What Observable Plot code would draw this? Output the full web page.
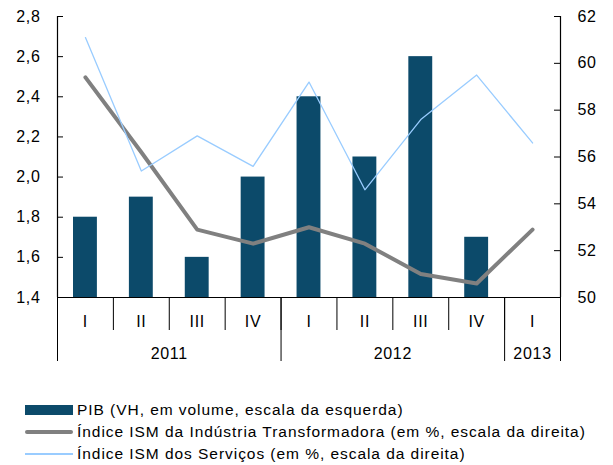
<!DOCTYPE html>
<html>
<head>
<meta charset="utf-8">
<script src="https://cdn.jsdelivr.net/npm/d3@7"></script>
<script src="https://cdn.jsdelivr.net/npm/@observablehq/plot@0.6"></script>
<style>
  html, body { margin: 0; padding: 0; background: #fff; }
  #wrap { position: relative; width: 613px; height: 465px; font-family: "Liberation Sans", Arial, sans-serif; }
  #legend { position: absolute; left: 0; top: 380px; width: 613px; height: 85px; }
  .row { position: absolute; left: 25px; height: 22px; display: flex; align-items: center; font-size: 15.5px; letter-spacing: 0.95px; color: #000; white-space: nowrap; }
  .sw { width: 48px; margin-right: 4px; flex: none; }
</style>
</head>
<body>
<div id="wrap">
  <div id="chart"></div>
  <div id="legend"></div>
</div>
<script>
const quarters = ["I", "II", "III", "IV", "I", "II", "III", "IV", "I"];
const years = ["2011", "2012", "2013"];
const yearFirst = [0, 4, 8];
const yearLast = [3, 7, 8];
const pib = [1.8, 1.9, 1.6, 2.0, 2.4, 2.1, 2.6, 1.7];
const ismIndustria = [59.4, 56.2, 52.9, 52.3, 53.0, 52.3, 51.0, 50.6, 52.9];
const ismServicos = [61.1, 55.4, 56.9, 55.6, 59.2, 54.6, 57.6, 59.5, 56.6];
const leftTicks = [1.4, 1.6, 1.8, 2.0, 2.2, 2.4, 2.6, 2.8];
const rightTicks = [50, 52, 54, 56, 58, 60, 62];
const legendLabels = [
  "PIB (VH, em volume, escala da esquerda)",
  "Índice ISM da Indústria Transformadora (em %, escala da direita)",
  "Índice ISM dos Serviços (em %, escala da direita)"
];

const colBar = "#0c4a6a";
const colInd = "#808080";
const colServ = "#99ccff";

const L0 = 1.4, L1 = 2.8, R0 = 50, R1 = 62;
const toLeft = v => +(L0 + (v - R0) * (L1 - L0) / (R1 - R0)).toFixed(9);
const fromLeft = y => R0 + (y - L0) * (R1 - R0) / (L1 - L0);

const idx = quarters.map((q, i) => i);
const bounds = [-0.5, ...idx.map(i => i + 0.5)];
const yearBounds = [-0.5, ...yearLast.map(i => i + 0.5)];
const yearMid = yearFirst.map((f, k) => (f + yearLast[k]) / 2);

const barData = pib.map((v, i) => ({i, v}));
const indData = ismIndustria.map((v, i) => ({i, y: toLeft(v)}));
const servData = ismServicos.map((v, i) => ({i, y: toLeft(v)}));

const chart = Plot.plot({
  width: 613,
  height: 380,
  marginLeft: 57,
  marginRight: 53,
  marginTop: 16,
  marginBottom: 83,
  style: {fontFamily: "'Liberation Sans', Arial, sans-serif", fontSize: "16px", color: "#000", background: "#fff", letterSpacing: "0.7px"},
  x: {domain: [-0.5, 8.5], axis: null},
  y: {domain: [L0, L1], axis: null},
  marks: [
    Plot.rectY(barData, {x1: d => d.i - 0.5, x2: d => d.i + 0.5, y1: L0, y2: "v", insetLeft: 16, insetRight: 16, fill: colBar}),
    Plot.line(indData, {x: "i", y: "y", stroke: colInd, strokeWidth: 4, strokeLinejoin: "round", strokeLinecap: "round"}),
    Plot.line(servData, {x: "i", y: "y", stroke: colServ, strokeWidth: 1.3}),
    Plot.ruleY([L0], {stroke: "#000", strokeWidth: 1.2}),
    Plot.ruleX([-0.5, 8.5], {stroke: "#000", strokeWidth: 1.2}),
    Plot.ruleY(leftTicks, {x1: -0.5, x2: -0.5, insetRight: -6, stroke: "#000"}),
    Plot.ruleY(rightTicks.map(toLeft), {x1: 8.5, x2: 8.5, insetLeft: -6, stroke: "#000"}),
    Plot.axisY({anchor: "left", label: null, ticks: leftTicks, tickSize: 0, tickPadding: 17, fontSize: 16,
      tickFormat: d => d.toFixed(1).replace(".", ",")}),
    Plot.axisY({anchor: "right", label: null, ticks: rightTicks.map(toLeft), tickSize: 0, tickPadding: 17, fontSize: 16,
      tickFormat: d => String(Math.round(fromLeft(d)))}),
    Plot.axisX({label: null, ticks: bounds, tickSize: 33, tickFormat: () => "", stroke: "#000"}),
    Plot.axisX({label: null, ticks: yearBounds, tickSize: 64, tickFormat: () => "", stroke: "#000"}),
    Plot.axisX({label: null, ticks: idx, tickSize: 0, tickPadding: 18, fontSize: 16, tickFormat: d => quarters[d]}),
    Plot.axisX({label: null, ticks: yearMid, tickSize: 0, tickPadding: 50, fontSize: 16, tickFormat: d => years[yearMid.indexOf(d)]})
  ]
});
document.getElementById("chart").appendChild(chart);

const legend = document.getElementById("legend");
const rowCenters = [30, 52, 74];
const swatches = [
  `<div class="sw" style="height:10px;background:${colBar}"></div>`,
  `<div class="sw" style="height:4px;background:${colInd};border-radius:2px"></div>`,
  `<div class="sw" style="height:1.3px;background:${colServ}"></div>`
];
legendLabels.forEach((t, k) => {
  const r = document.createElement("div");
  r.className = "row";
  r.style.top = (rowCenters[k] - 11) + "px";
  r.innerHTML = swatches[k] + `<span>${t}</span>`;
  legend.appendChild(r);
});
</script>
</body>
</html>
